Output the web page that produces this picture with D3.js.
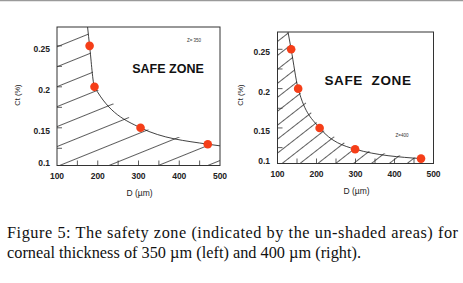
<!DOCTYPE html>
<html>
<head>
<meta charset="utf-8">
<script src="https://cdn.jsdelivr.net/npm/d3@7"></script>
<style>
body { margin: 0; background: #fff; }
svg { display: block; }
</style>
</head>
<body>
<svg width="463" height="283"></svg>
<script>
// Values (D in um, Ct in %)
var dLeft = [180, 192, 305, 470];
var ctLeft = [0.25, 0.20, 0.15, 0.130];
var curveDLeft = [175, 180, 192, 305, 470, 500];
var curveCtLeft = [0.273, 0.25, 0.20, 0.15, 0.130, 0.128];

var dRight = [135, 153, 208, 299, 468];
var ctRight = [0.25, 0.20, 0.15, 0.123, 0.111];
var curveDRight = [127, 135, 153, 208, 299, 468];
var curveCtRight = [0.272, 0.25, 0.20, 0.15, 0.123, 0.111];

var xTickLabels = [100, 200, 300, 400, 500];
var xMinorTicks = [150, 200, 250, 300, 350, 400, 450];
var yTickLabels = [0.1, 0.15, 0.2, 0.25];
var yMinorTicks = [0.125, 0.15, 0.175, 0.2, 0.225, 0.25];

var svg = d3.select('svg');

// thin grey rule at the top of the page
svg.append('line')
    .attr('x1', 0).attr('x2', 463)
    .attr('y1', 0.5).attr('y2', 0.5)
    .attr('stroke', '#9a9a9a').attr('stroke-width', 1.5);

var panels = [
    {id: 'L', xr: [57, 220], yd: [0.104, 0.273], yr: [165.5, 27],
     d: dLeft, ct: ctLeft, cd: curveDLeft, cct: curveCtLeft,
     angle: 22, gap: 18.5, zLabel: 'Z= 350', zPos: [194, 42],
     safe: 'SAFE ZONE', safePos: [168, 73], safeSize: 12.5, safeSpacing: 0,
     yTitleX: 20, yLabelX: 50},
    {id: 'R', xr: [277.5, 433.5], yd: [0.1048, 0.272], yr: [163.5, 32],
     d: dRight, ct: ctRight, cd: curveDRight, cct: curveCtRight,
     angle: 38, gap: 11, zLabel: 'Z=400', zPos: [402, 137],
     safe: 'SAFE\u00a0\u00a0ZONE', safePos: [368, 85], safeSize: 13.5, safeSpacing: 0.6,
     yTitleX: 243, yLabelX: 270}
];

var defs = svg.append('defs');

panels.forEach(function(p) {
    var x = d3.scaleLinear().domain([100, 500]).range(p.xr);
    var y = d3.scaleLinear().domain(p.yd).range(p.yr).clamp(true);
    var g = svg.append('g');

    // hatch pattern
    var pat = defs.append('pattern')
        .attr('id', 'hatch' + p.id)
        .attr('patternUnits', 'userSpaceOnUse')
        .attr('width', 60).attr('height', p.gap)
        .attr('patternTransform', 'rotate(' + (-p.angle) + ')');
    pat.append('line')
        .attr('x1', 0).attr('x2', 60)
        .attr('y1', p.gap / 2).attr('y2', p.gap / 2)
        .attr('stroke', '#1a1a1a').attr('stroke-width', 0.7);

    var curve = p.cd.map(function(v, i) { return [x(v), y(p.cct[i])]; });
    var left = p.xr[0], bottom = p.yr[0], top = p.yr[1];

    // shaded (unsafe) region: frame left edge, curve, bottom
    var region = [[left, top]].concat(curve);
    var last = curve[curve.length - 1];
    region.push([last[0], bottom]);
    region.push([left, bottom]);
    g.append('path')
        .attr('d', d3.line()(region) + 'Z')
        .attr('fill', 'url(#hatch' + p.id + ')')
        .attr('stroke', 'none');

    // boundary curve
    g.append('path')
        .attr('d', d3.line().curve(d3.curveMonotoneX)(curve))
        .attr('fill', 'none')
        .attr('stroke', '#111').attr('stroke-width', 0.8);

    // frame
    g.append('rect')
        .attr('x', left).attr('y', top)
        .attr('width', p.xr[1] - left).attr('height', bottom - top)
        .attr('fill', 'none').attr('stroke', '#333').attr('stroke-width', 1);

    // inward ticks
    g.selectAll('.xt').data(xMinorTicks).enter().append('line')
        .attr('x1', function(d) { return x(d); })
        .attr('x2', function(d) { return x(d); })
        .attr('y1', bottom).attr('y2', bottom - 5)
        .attr('stroke', '#333').attr('stroke-width', 0.8);
    g.selectAll('.yt').data(yMinorTicks).enter().append('line')
        .attr('x1', left).attr('x2', left + 5)
        .attr('y1', function(d) { return y(d); })
        .attr('y2', function(d) { return y(d); })
        .attr('stroke', '#333').attr('stroke-width', 0.8);

    // tick labels
    g.selectAll('.xl').data(xTickLabels).enter().append('text')
        .attr('x', function(d) { return x(d); })
        .attr('y', bottom + 13.5)
        .attr('text-anchor', 'middle')
        .attr('font-family', 'Liberation Sans, Arial, sans-serif')
        .attr('font-weight', 'bold').attr('font-size', 8.5)
        .attr('fill', '#222')
        .text(function(d) { return d; });
    g.selectAll('.yl').data(yTickLabels).enter().append('text')
        .attr('x', p.yLabelX)
        .attr('y', function(d) { return Math.min(y(d) + 3, bottom - 3) + 3; })
        .attr('text-anchor', 'end')
        .attr('font-family', 'Liberation Sans, Arial, sans-serif')
        .attr('font-weight', 'bold').attr('font-size', 8.5)
        .attr('fill', '#222')
        .text(function(d) { return d; });

    // axis titles
    g.append('text')
        .attr('x', (p.xr[0] + p.xr[1]) / 2 + 1)
        .attr('y', bottom + 30)
        .attr('text-anchor', 'middle')
        .attr('font-family', 'Liberation Sans, Arial, sans-serif')
        .attr('font-size', 8.5).attr('fill', '#222')
        .text('D (\u00b5m)');
    g.append('text')
        .attr('transform', 'translate(' + [p.yTitleX, 95] + ') rotate(-90)')
        .attr('text-anchor', 'middle')
        .attr('font-family', 'Liberation Sans, Arial, sans-serif')
        .attr('font-size', 7.5).attr('fill', '#222')
        .text('Ct (%)');

    // annotations
    g.append('text')
        .attr('x', p.safePos[0]).attr('y', p.safePos[1])
        .attr('text-anchor', 'middle')
        .attr('font-family', 'Liberation Sans, Arial, sans-serif')
        .attr('font-weight', 'bold').attr('font-size', p.safeSize)
        .attr('letter-spacing', p.safeSpacing)
        .attr('fill', '#111')
        .text(p.safe);
    g.append('text')
        .attr('x', p.zPos[0]).attr('y', p.zPos[1])
        .attr('text-anchor', 'middle')
        .attr('font-family', 'Liberation Sans, Arial, sans-serif')
        .attr('font-size', 4.5).attr('fill', '#333')
        .text(p.zLabel);

    // data points
    g.selectAll('.dot').data(p.d).enter().append('circle')
        .attr('cx', function(d) { return x(d); })
        .attr('cy', function(d, i) { return y(p.ct[i]); })
        .attr('r', 4.3)
        .attr('fill', '#f53e18');
});

// caption
var cap = svg.append('g')
    .attr('font-family', 'Liberation Serif, Times New Roman, serif')
    .attr('font-size', 16.3).attr('fill', '#111');
cap.append('text')
    .attr('x', 7).attr('y', 237.5)
    .attr('textLength', 451).attr('lengthAdjust', 'spacing')
    .text('Figure 5: The safety zone (indicated by the un-shaded areas) for');
cap.append('text')
    .attr('x', 7).attr('y', 258)
    .attr('textLength', 354).attr('lengthAdjust', 'spacing')
    .text('corneal thickness of 350 \u00b5m (left) and 400 \u00b5m (right).');
</script>
</body>
</html>
